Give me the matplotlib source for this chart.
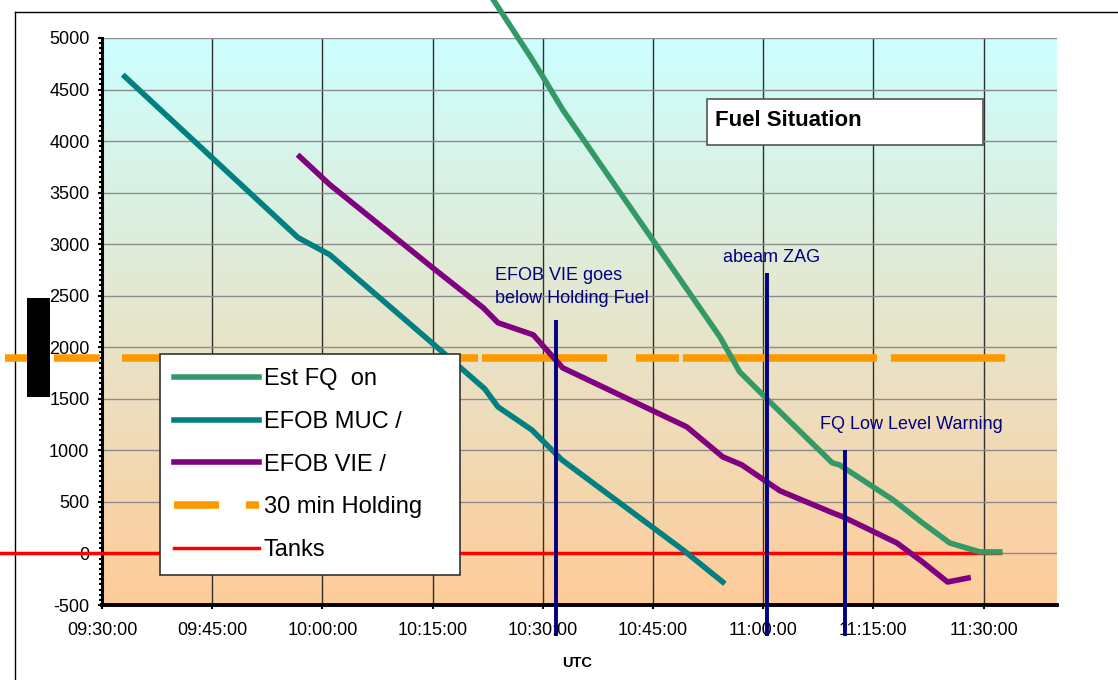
import numpy as np
import matplotlib
matplotlib.use("Agg")
import matplotlib.pyplot as plt
from matplotlib.lines import Line2D
from matplotlib.patches import Rectangle
from matplotlib.colors import LinearSegmentedColormap
from matplotlib.ticker import MultipleLocator, FuncFormatter

plt.rcParams['font.family'] = ['Liberation Sans', 'DejaVu Sans']
plt.rcParams['lines.scale_dashes'] = False
plt.rcParams['axes.unicode_minus'] = False

# times are minutes after 09:30 UTC, fuel in kg
est_fq_t = [51.9, 58.3, 60.0, 62.7, 84.1, 86.8, 90.9, 99.4, 100.4, 107.7, 111.7, 115.4, 119.5, 122.2]
est_fq = [5520, 4821, 4626, 4306, 2102, 1762, 1471, 879, 859, 519, 296, 102, 15, 15]

muc_t = [3.1, 26.7, 31.0, 46.0, 52.1, 53.9, 58.5, 62.6, 79.1, 84.5]
muc = [4626, 3063, 2898, 1976, 1597, 1422, 1199, 908, 34, -277]

vie_t = [26.9, 31.0, 45.0, 51.9, 53.9, 58.7, 62.7, 79.6, 84.5, 87.1, 92.3, 99.5, 100.9,
         108.2, 111.7, 115.1, 117.9]
vie = [3850, 3578, 2772, 2383, 2238, 2121, 1801, 1228, 937, 859, 607, 393, 354,
       102, -83, -277, -238]

holding_t = [-13.2, 122.9]
holding = [1900, 1900]
tanks_t = [-13.9, 122.2]
tanks = [0, 0]

event_t = [61.8, 90.5, 101.1]
event_top = [2267, 2723, 1005]
event_bottom = -800
event_labels = ["EFOB VIE goes\nbelow Holding Fuel", "abeam ZAG", "FQ Low Level Warning"]
event_label_t = [53.5, 84.5, 97.7]
event_label_y = [2583, 2869, 1248]

legend_labels = ["Est FQ  on", "EFOB MUC /", "EFOB VIE /", "30 min Holding", "Tanks"]

W, H = 1118, 680
fig = plt.figure(figsize=(W / 100, H / 100), dpi=100)
ax = fig.add_axes([102 / W, 1 - 605 / H, 955 / W, 567 / H])
ax.set_xlim(0, 130)
ax.set_ylim(-500, 5000)

# gradient background of the plot area
grad = LinearSegmentedColormap.from_list("bg", ["#CCFFFF", "#FFCC99"])
ax.imshow(np.linspace(0, 1, 256).reshape(-1, 1), cmap=grad, aspect='auto',
          extent=[0, 130, -500, 5000], zorder=0)

ax.xaxis.set_major_locator(MultipleLocator(15))
ax.yaxis.set_major_locator(MultipleLocator(500))
ax.yaxis.set_minor_locator(MultipleLocator(50))

def clock(m, pos):
    total = int(round(9 * 60 + 30 + m))
    return f"{total // 60:02d}:{total % 60:02d}:00"

ax.xaxis.set_major_formatter(FuncFormatter(clock))
ax.yaxis.grid(True, color='#8c8c8c', lw=1)
ax.xaxis.grid(True, color='#303030', lw=1)

for s in ['top', 'right']:
    ax.spines[s].set_visible(False)
ax.spines['left'].set_linewidth(2.2)
ax.spines['bottom'].set_linewidth(2.8)
ax.tick_params(axis='y', which='major', length=3, width=1.5, pad=6, labelsize=13)
ax.tick_params(axis='y', which='minor', length=2, width=1.5)
ax.tick_params(axis='x', which='major', length=3, width=1.5, pad=9, labelsize=13)

ax.plot(est_fq_t, est_fq, color='#339966', lw=4, clip_on=False, zorder=3)
ax.plot(muc_t, muc, color='#008080', lw=4, zorder=3)
ax.plot(vie_t, vie, color='#800080', lw=4, zorder=3)

hold_dash = [p * 0.72 for p in [44, 5, 46, 22, 356, 4, 125, 29, 43, 4, 194, 14, 114, 10]]
ax.plot(holding_t, holding, color='#FF9900', lw=5.4, dashes=hold_dash,
        clip_on=False, zorder=2.5)
ax.plot(tanks_t, tanks, color='#FF0000', lw=2.5, clip_on=False, zorder=2.6)

ax.vlines(event_t, event_bottom, event_top, color='#000080', lw=2.8,
          clip_on=False, zorder=4)
for lab, tx, ty in zip(event_labels, event_label_t, event_label_y):
    ax.text(tx, ty, lab, color='#000080', fontsize=13, va='center', ha='left',
            linespacing=1.45, zorder=4)

handles = [
    Line2D([], [], color='#339966', lw=4),
    Line2D([], [], color='#008080', lw=4),
    Line2D([], [], color='#800080', lw=4),
    Line2D([], [], color='#FF9900', lw=5.4, dashes=[32.4, 19.4, 40, 20]),
    Line2D([], [], color='#FF0000', lw=2.5),
]
leg = ax.legend(handles, legend_labels, loc='upper left',
                bbox_to_anchor=(160 / W, 1 - 354 / H, 300 / W, 0.0),
                bbox_transform=fig.transFigure, mode='expand',
                fontsize=17, handlelength=3.6, handletextpad=0.2,
                labelspacing=0.88, borderpad=0.6, borderaxespad=0,
                fancybox=False, framealpha=1, edgecolor='#333333')
leg.get_frame().set_linewidth(1.2)
leg.set_zorder(6)

fig.text(577 / W, 1 - 663 / H, "UTC", fontsize=10.5, fontweight='bold',
         ha='center', va='center')

# title box
fig.add_artist(Rectangle((707 / W, 1 - 145 / H), 276 / W, 46 / H,
                         transform=fig.transFigure, facecolor='white',
                         edgecolor='#555555', lw=1.2, zorder=5))
fig.text(715 / W, 1 - 121 / H, "Fuel Situation", fontsize=16, fontweight='bold',
         ha='left', va='center', zorder=6)

# chart area frame
fig.add_artist(Line2D([15 / W, 15 / W], [1 - 12 / H, 0], transform=fig.transFigure,
                      color='black', lw=1, zorder=-1))
fig.add_artist(Line2D([15 / W, 1], [1 - 12 / H, 1 - 12 / H], transform=fig.transFigure,
                      color='black', lw=1, zorder=-1))

# black block over the y axis title
fig.add_artist(Rectangle((27 / W, 1 - 397 / H), 23 / W, 99 / H,
                         transform=fig.transFigure, facecolor='black',
                         edgecolor='none', zorder=5))

fig.savefig("out.png", dpi=100)
